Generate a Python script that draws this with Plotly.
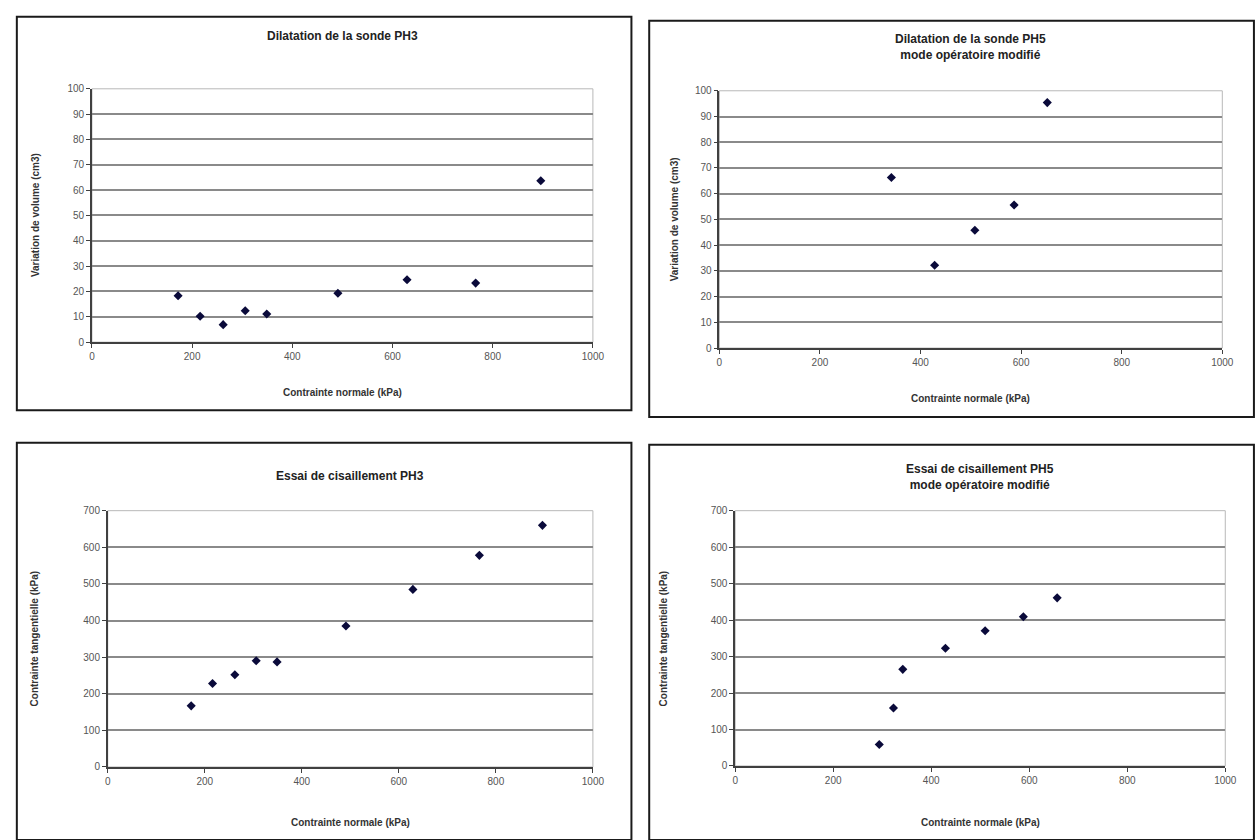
import plotly.graph_objects as go

W, H = 1260, 840

# ---- data ----
ph3_normal = [172, 216, 262, 306, 349, 491, 629, 766, 896]
ph3_volume = [18.3, 10.2, 6.9, 12.4, 11.1, 19.3, 24.6, 23.3, 63.7]
ph3_shear = [167, 228, 252, 290, 287, 385, 485, 578, 660]

ph5_normal_dil = [342, 428, 508, 586, 652]
ph5_volume = [66.3, 32.2, 45.8, 55.6, 95.4]

ph5_normal_sh = [294, 323, 342, 429, 510, 588, 657]
ph5_shear = [59, 159, 265, 323, 371, 409, 461]

titles = [
    "Dilatation de la sonde PH3",
    "Dilatation de la sonde PH5<br>mode opératoire modifié",
    "Essai de cisaillement PH3",
    "Essai de cisaillement PH5<br>mode opératoire modifié",
]
x_title = "Contrainte normale (kPa)"
y_titles = [
    "Variation de volume (cm3)",
    "Variation de volume (cm3)",
    "Contrainte tangentielle (kPa)",
    "Contrainte tangentielle (kPa)",
]

# ---- layout geometry (pixels) ----
plots = [  # x0, x1, ytop, ybottom
    (90, 597, 84, 341),
    (725, 1234, 86, 347),
    (106, 597, 512, 772),
    (741, 1237, 512, 771),
]
boxes = [
    (14, 11, 636, 410),
    (654, 15, 1266, 417),
    (14, 443, 636, 846),
    (654, 445, 1266, 846),
]
title_y = [30, 42, 477, 478]
ytitle_x = [33, 680, 32, 668]
xtitle_y = [392, 398, 828, 828]
yranges = [(0, 100, 10), (0, 100, 10), (0, 700, 100), (0, 700, 100)]

series = [
    (ph3_normal, ph3_volume),
    (ph5_normal_dil, ph5_volume),
    (ph3_normal, ph3_shear),
    (ph5_normal_sh, ph5_shear),
]

def px(x):
    return x / W

def py(y):
    return 1 - y / H

fig = go.Figure()
font_fam = "Liberation Sans, Arial, sans-serif"
shapes = []
annotations = []

for i, ((xs, ys), (x0, x1, yt, yb), (ymin, ymax, dy)) in enumerate(zip(series, plots, yranges)):
    n = "" if i == 0 else str(i + 1)
    fig.add_trace(go.Scatter(
        x=xs, y=ys, mode="markers",
        xaxis="x" + n, yaxis="y" + n,
        marker=dict(symbol="diamond", size=7, color="#0a0a3a",
                    line=dict(width=0)),
        showlegend=False,
    ))
    fig.layout["xaxis" + n] = dict(
        domain=[px(x0), px(x1)], range=[0, 1000], dtick=200, tick0=0,
        anchor="y" + n, showgrid=False, zeroline=False,
        showline=True, linecolor="#404040", linewidth=1.5,
        ticks="outside", ticklen=4, tickcolor="#404040",
        tickfont=dict(family=font_fam, size=10, color="#555"),
        fixedrange=True,
    )
    fig.layout["yaxis" + n] = dict(
        domain=[py(yb), py(yt)], range=[ymin, ymax], dtick=dy, tick0=0,
        anchor="x" + n, showgrid=True, gridcolor="#8a8a8a", gridwidth=1.5,
        zeroline=False, showline=True, linecolor="#404040", linewidth=1.5,
        ticks="outside", ticklen=4, tickcolor="#404040",
        tickfont=dict(family=font_fam, size=10, color="#555"),
        fixedrange=True,
    )
    # plot area border
    shapes.append(dict(type="rect", xref="paper", yref="paper",
                       x0=px(x0), x1=px(x1), y0=py(yb), y1=py(yt),
                       line=dict(color="#b8b8b8", width=1), layer="below"))
    # chart box
    bx0, by0, bx1, by1 = boxes[i]
    shapes.append(dict(type="rect", xref="paper", yref="paper",
                       x0=px(bx0), x1=px(bx1), y0=py(by1), y1=py(by0),
                       line=dict(color="#1a1a1a", width=2)))
    cx = (x0 + x1) / 2
    annotations.append(dict(text="<b>" + titles[i].replace("<br>", "</b><br><b>") + "</b>",
                            x=px(cx), y=py(title_y[i]),
                            xref="paper", yref="paper", showarrow=False,
                            xanchor="center", yanchor="middle",
                            font=dict(family=font_fam, size=12, color="#222")))
    annotations.append(dict(text="<b>" + x_title + "</b>", x=px(cx), y=py(xtitle_y[i]),
                            xref="paper", yref="paper", showarrow=False,
                            xanchor="center", yanchor="middle",
                            font=dict(family=font_fam, size=10, color="#333")))
    annotations.append(dict(text="<b>" + y_titles[i] + "</b>", x=px(ytitle_x[i]), y=py((yt + yb) / 2),
                            xref="paper", yref="paper", showarrow=False,
                            textangle=-90, xanchor="center", yanchor="middle",
                            font=dict(family=font_fam, size=10, color="#333")))

fig.update_layout(
    width=W, height=H, margin=dict(l=0, r=0, t=0, b=0),
    paper_bgcolor="white", plot_bgcolor="white",
    shapes=shapes, annotations=annotations,
)

fig.write_html("out.html", config={"displayModeBar": False},
               post_script="document.body.style.margin='0px';")
